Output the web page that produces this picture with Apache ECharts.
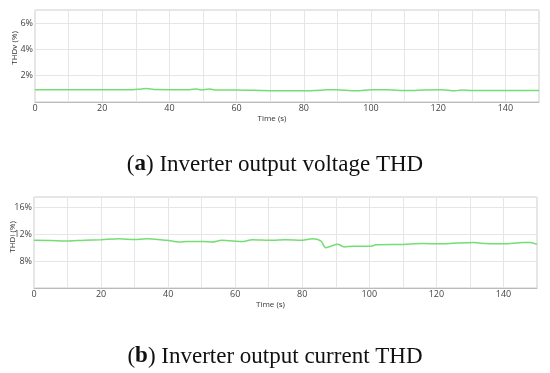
<!DOCTYPE html>
<html><head><meta charset="utf-8">
<script src="https://cdn.jsdelivr.net/npm/echarts@6/dist/echarts.min.js"></script>
<style>html,body{margin:0;padding:0;background:#fff}#c{width:550px;height:373px}</style>
</head><body><div id="c"></div>
<script>
// Panel (a): inverter output voltage THD (%)
const timeV = [0, 10, 20, 29, 31, 33, 35.5, 40, 46, 48, 49.5, 52, 53.5, 60, 65.5, 72, 80, 85, 87, 90, 95.7, 100, 105, 111, 116, 121, 125, 127, 130, 140, 150];
const thdV  = [0.94, 0.94, 0.94, 0.94, 0.97, 1.02, 0.95, 0.94, 0.94, 0.99, 0.92, 0.99, 0.92, 0.92, 0.89, 0.86, 0.86, 0.9, 0.94, 0.93, 0.86, 0.94, 0.93, 0.87, 0.92, 0.94, 0.86, 0.91, 0.87, 0.88, 0.88];
// Panel (b): inverter output current THD (%)
const timeI = [0, 5, 9.5, 15, 20, 25.5, 30, 33.5, 39.5, 43.5, 45.5, 50.5, 53, 56, 62.5, 65, 71, 75, 80, 83, 85.5, 87, 88.5, 90.5, 92.5, 95, 100.5, 102, 110, 116, 120, 124, 131, 133, 138, 140, 146, 148, 150];
const thdI  = [11.07, 11.05, 10.97, 11.1, 11.17, 11.3, 11.2, 11.3, 11.07, 10.82, 10.9, 10.9, 10.82, 11.07, 10.9, 11.17, 11.07, 11.17, 11.07, 11.3, 11.0, 9.98, 10.2, 10.5, 10.1, 10.2, 10.2, 10.4, 10.47, 10.6, 10.55, 10.6, 10.75, 10.65, 10.55, 10.55, 10.75, 10.75, 10.47];
const xTicks = [0, 20, 40, 60, 80, 100, 120, 140];
const yNames = ['THDv (%)', 'THDi (%)'];
const captionA = ['a', ' Inverter output voltage THD'];
const captionB = ['b', ' Inverter output current THD'];

const pair = (xs, ys) => xs.map((x, i) => [x, ys[i]]);
const green = '#74de74';
const lblFont = {fontFamily: 'Open Sans', fontSize: 9, color: '#444'};
function xAx(gi) {
  return {
    type: 'value', gridIndex: gi, min: 0, max: 150, interval: 10,
    name: 'Time (s)', nameLocation: 'middle', nameGap: 13,
    nameTextStyle: {fontFamily: 'Open Sans', fontSize: 8, color: '#333', padding: [0, 30, 0, 0]},
    axisLine: {show: true, lineStyle: {color: '#bbb'}}, axisTick: {show: false},
    axisLabel: Object.assign({margin: 2, formatter: v => xTicks.includes(v) ? String(v) : ''}, lblFont),
    splitLine: {show: true, lineStyle: {color: '#e6e6e6'}}
  };
}
function yAx(gi, min, max, interval, hideVal) {
  return {
    type: 'value', gridIndex: gi, min: min, max: max, interval: interval,
    axisLine: {show: false}, axisTick: {show: false},
    axisLabel: Object.assign({margin: 2, formatter: v => (v === hideVal || (v - min) % interval !== 0) ? '' : v + '%'}, lblFont),
    splitLine: {show: true, lineStyle: {color: '#e6e6e6'}}
  };
}
const yName = (txt, cx, cy) => ({type: 'text', x: cx, y: cy, rotation: Math.PI / 2,
  style: {text: txt, fontFamily: 'Open Sans', fontSize: 8, fill: '#333', align: 'center', verticalAlign: 'middle'}});
const chart = echarts.init(document.getElementById('c'), null, {renderer: 'canvas'});
const capStyle = {fontFamily: 'Liberation Serif', fontSize: 23, fontWeight: 'normal', color: '#111',
  rich: {b: {fontFamily: 'Liberation Serif', fontSize: 23, fontWeight: 'bold', color: '#111'},
         n: {fontFamily: 'Liberation Serif', fontSize: 23, fontWeight: 'normal', color: '#111'}}};
chart.setOption({
  animation: false,
  title: [
    {text: '{n|(}{b|' + captionA[0] + '}{n|)' + captionA[1] + '}', left: 'center', top: 148, textStyle: capStyle},
    {text: '{n|(}{b|' + captionB[0] + '}{n|)' + captionB[1] + '}', left: 'center', top: 340, textStyle: capStyle}
  ],
  graphic: [yName(yNames[0], 15, 48), yName(yNames[1], 13, 237)],
  grid: [
    {left: 35, top: 10, width: 504, height: 92, containLabel: false, outerBoundsMode: 'none', show: true, borderColor: '#ccc', borderWidth: 1},
    {left: 34, top: 197, width: 503, height: 91, containLabel: false, outerBoundsMode: 'none', show: true, borderColor: '#ccc', borderWidth: 1}
  ],
  xAxis: [xAx(0), xAx(1)],
  yAxis: [yAx(0, 0, 7, 2, 0), yAx(1, 4, 17.5, 4, 4)],
  series: [
    {type: 'line', xAxisIndex: 0, yAxisIndex: 0, data: pair(timeV, thdV), showSymbol: false, smooth: 0.3, lineStyle: {color: green, width: 1.5}},
    {type: 'line', xAxisIndex: 1, yAxisIndex: 1, data: pair(timeI, thdI), showSymbol: false, smooth: 0.3, lineStyle: {color: green, width: 1.5}}
  ]
});
</script></body></html>
